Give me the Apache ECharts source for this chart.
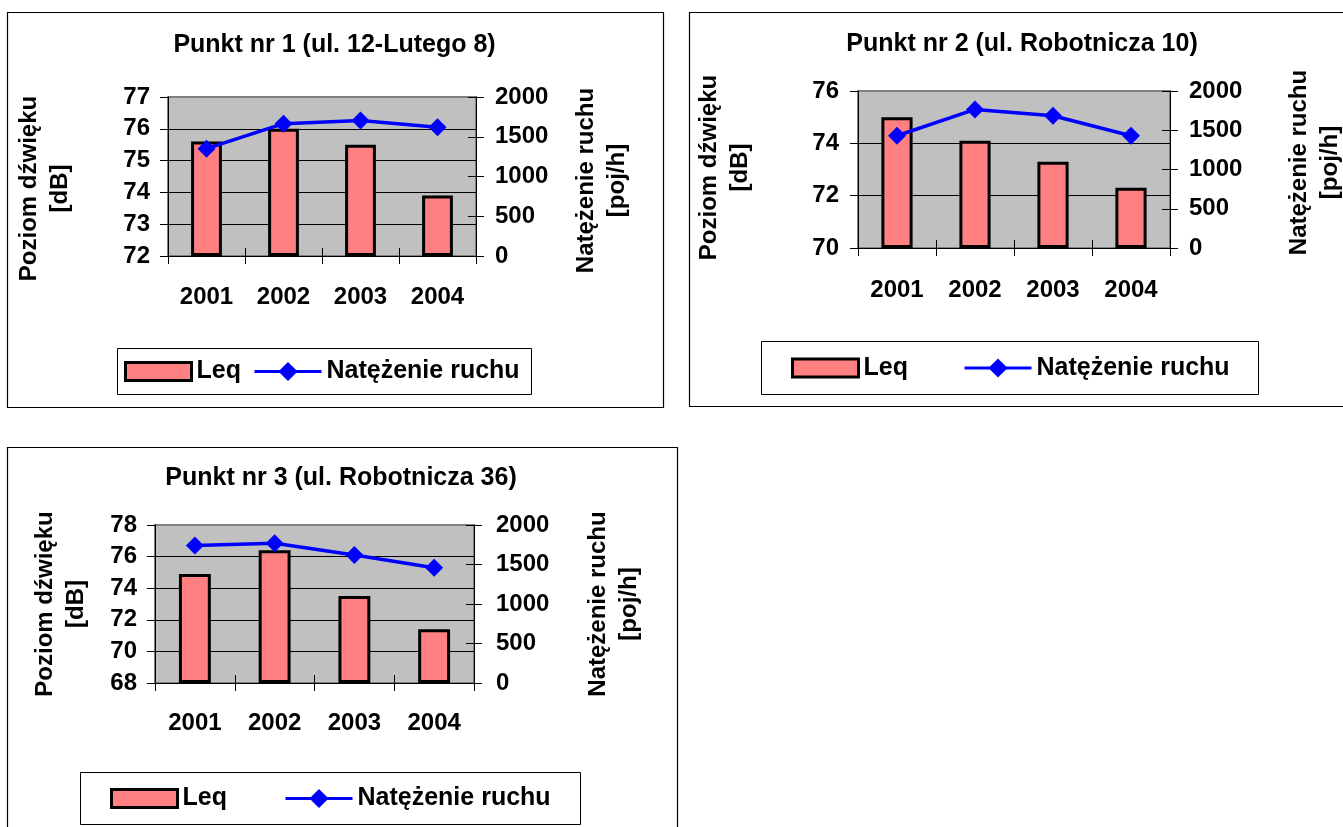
<!DOCTYPE html>
<html>
<head>
<meta charset="utf-8">
<script src="https://cdn.jsdelivr.net/npm/echarts@6/dist/echarts.min.js"></script>
<style>
  html, body { margin: 0; padding: 0; background: #fff; }
  #chart { width: 1343px; height: 827px; }
</style>
</head>
<body>
<div id="chart"></div>
<script>
// Measurement points: yearly noise level (Leq, dB) and traffic volume (vehicles/h)
const years = ['2001', '2002', '2003', '2004'];

const titles = [
  'Punkt nr 1 (ul. 12-Lutego 8)',
  'Punkt nr 2 (ul. Robotnicza 10)',
  'Punkt nr 3 (ul. Robotnicza 36)'
];

const leq1 = [75.6, 76.0, 75.5, 73.9];
const traffic1 = [1350, 1665, 1705, 1620];

const leq2 = [75.0, 74.1, 73.3, 72.3];
const traffic2 = [1430, 1765, 1685, 1430];

const leq3 = [74.9, 76.4, 73.5, 71.4];
const traffic3 = [1740, 1770, 1620, 1460];

// Left (dB) axis ranges per point: [min, max, step]
const dbAxis1 = [72, 77, 1];
const dbAxis2 = [70, 76, 2];
const dbAxis3 = [68, 78, 2];
// Right (traffic) axis range shared by all points
const trafficAxis = [0, 2000, 500];

const seriesNames = ['Leq', 'Natężenie ruchu'];
const leftAxisName = 'Poziom dźwięku\n[dB]';
const rightAxisName = 'Natężenie ruchu\n[poj/h]';

const FONT = '"Liberation Sans", Arial, Helvetica, sans-serif';
const BAR_FILL = '#FF8080';
const LINE_BLUE = '#0000FF';

// Layout of each panel on the page
const panels = [
  {
    title: titles[0], leq: leq1, traffic: traffic1, db: dbAxis1,
    frame: [7, 12, 656, 395],
    grid: { left: 168, top: 97, width: 308, height: 159 },
    titleAt: [334.5, 45],
    leftGap: 92, leftPad: [0, 24, 0, 0],
    rightGap: 95, rightPad: [0, 8, 0, 0],
    xMargin: 29, leftMargin: 18, rightMargin: 19,
    legendBox: [117, 348, 414, 46], legendLeq: 124, legendLine: 253, legendY: 371
  },
  {
    title: titles[1], leq: leq2, traffic: traffic2, db: dbAxis2,
    frame: [689, 12, 670, 394],
    grid: { left: 858, top: 91, width: 312, height: 157 },
    titleAt: [1022, 44],
    leftGap: 102, leftPad: [0, 0, 0, 4],
    rightGap: 114, rightPad: [0, 0, 0, 14],
    xMargin: 30, leftMargin: 19, rightMargin: 19,
    legendBox: [761, 341, 497, 53], legendLeq: 791, legendLine: 963, legendY: 367.5
  },
  {
    title: titles[2], leq: leq3, traffic: traffic3, db: dbAxis3,
    frame: [7, 447, 670, 400],
    grid: { left: 155, top: 525, width: 319, height: 158 },
    titleAt: [341, 478.5],
    leftGap: 63, leftPad: [0, 0, 0, 0],
    rightGap: 109, rightPad: [0, 0, 0, 0],
    xMargin: 28, leftMargin: 18, rightMargin: 22,
    legendBox: [80, 772, 500, 52], legendLeq: 110, legendLine: 284, legendY: 798
  }
];

const textBase = { fontFamily: FONT, fontWeight: 'bold', color: '#000' };
const plainNumber = (v) => String(v);

const option = {
  animation: false,
  backgroundColor: '#fff',
  title: [], grid: [], xAxis: [], yAxis: [], series: [], legend: [], graphic: []
};

panels.forEach((p, i) => {
  // outer frame of the panel and the legend box
  option.graphic.push({
    type: 'rect', silent: true, z: -10,
    shape: { x: p.frame[0] + 0.5, y: p.frame[1] + 0.5, width: p.frame[2], height: p.frame[3] },
    style: { fill: '#fff', stroke: '#000', lineWidth: 1.2 }
  });
  option.graphic.push({
    type: 'rect', silent: true, z: -5,
    shape: { x: p.legendBox[0] + 0.5, y: p.legendBox[1] + 0.5, width: p.legendBox[2], height: p.legendBox[3] },
    style: { fill: '#fff', stroke: '#000', lineWidth: 1 }
  });

  option.title.push({
    text: p.title,
    left: p.titleAt[0], top: p.titleAt[1] - 15,
    textAlign: 'center', padding: 0,
    textStyle: Object.assign({ fontSize: 25, lineHeight: 30 }, textBase)
  });

  option.grid.push(Object.assign({
    show: true, backgroundColor: '#C0C0C0', borderColor: '#808080', borderWidth: 2,
    containLabel: false, outerBoundsMode: 'none'
  }, p.grid));

  // category axis with ticks on the category boundaries
  option.xAxis.push({
    type: 'category', gridIndex: i, data: years, position: 'bottom', boundaryGap: true,
    axisLine: { show: true, lineStyle: { color: '#000', width: 1 } },
    axisTick: { show: true, inside: false, length: 8, alignWithLabel: false, lineStyle: { color: '#000', width: 1 } },
    axisLabel: Object.assign({ fontSize: 24, lineHeight: 24, margin: p.xMargin }, textBase),
    splitLine: { show: false }
  });
  // inner half of the crossing category ticks
  option.xAxis.push({
    type: 'category', gridIndex: i, data: years, position: 'bottom', boundaryGap: true,
    axisLine: { show: false },
    axisTick: { show: true, inside: true, length: 8, lineStyle: { color: '#000', width: 1 } },
    axisLabel: { show: false }, splitLine: { show: false }
  });

  option.yAxis.push({
    type: 'value', gridIndex: i, position: 'left',
    min: p.db[0], max: p.db[1], interval: p.db[2], startValue: p.db[0],
    axisLine: { show: true, lineStyle: { color: '#000', width: 1 } },
    axisTick: { show: true, inside: false, length: 8, lineStyle: { color: '#000', width: 1 } },
    axisLabel: Object.assign({ fontSize: 24, lineHeight: 24, margin: p.leftMargin, formatter: plainNumber }, textBase),
    splitLine: { show: true, showMinLine: false, showMaxLine: false, lineStyle: { color: '#000', width: 1 } },
    name: leftAxisName, nameLocation: 'middle', nameGap: p.leftGap, nameMoveOverlap: false,
    nameTextStyle: Object.assign({ fontSize: 24, lineHeight: 31, padding: p.leftPad }, textBase)
  });
  option.yAxis.push({
    type: 'value', gridIndex: i, position: 'right',
    min: trafficAxis[0], max: trafficAxis[1], interval: trafficAxis[2],
    axisLine: { show: true, lineStyle: { color: '#000', width: 1 } },
    axisTick: { show: true, inside: false, length: 8, lineStyle: { color: '#000', width: 1 } },
    axisLabel: Object.assign({ fontSize: 24, lineHeight: 24, margin: p.rightMargin, formatter: plainNumber }, textBase),
    splitLine: { show: false },
    name: rightAxisName, nameLocation: 'middle', nameGap: p.rightGap, nameMoveOverlap: false,
    nameTextStyle: Object.assign({ fontSize: 24, lineHeight: 31, padding: p.rightPad }, textBase)
  });
  // inner half of the crossing ticks on the traffic axis
  option.yAxis.push({
    type: 'value', gridIndex: i, position: 'right', offset: 0,
    min: trafficAxis[0], max: trafficAxis[1], interval: trafficAxis[2],
    axisLine: { show: false },
    axisTick: { show: true, inside: true, length: 8, lineStyle: { color: '#000', width: 1 } },
    axisLabel: { show: false }, splitLine: { show: false }
  });

  option.series.push({
    type: 'bar', name: seriesNames[0], xAxisIndex: 2 * i, yAxisIndex: 3 * i,
    data: p.leq, barWidth: '40%', z: 2,
    itemStyle: { color: BAR_FILL, borderColor: '#000', borderWidth: 3 }
  });
  option.series.push({
    type: 'line', name: seriesNames[1], xAxisIndex: 2 * i, yAxisIndex: 3 * i + 1,
    data: p.traffic, symbol: 'diamond', symbolSize: 18, z: 3,
    lineStyle: { color: LINE_BLUE, width: 3.5 },
    itemStyle: { color: LINE_BLUE }
  });

  const legendText = Object.assign({ fontSize: 25, lineHeight: 24 }, textBase);
  option.legend.push({
    data: [seriesNames[0]], left: p.legendLeq, top: p.legendY - 12, padding: 0,
    icon: 'rect', itemWidth: 66, itemHeight: 18, selectedMode: false,
    itemStyle: { borderColor: '#000', borderWidth: 3 },
    textStyle: legendText
  });
  option.legend.push({
    data: [seriesNames[1]], left: p.legendLine, top: p.legendY - 12, padding: 0,
    itemWidth: 67, itemHeight: 24, selectedMode: false,
    lineStyle: { width: 3 },
    textStyle: legendText
  });
});

const chart = echarts.init(document.getElementById('chart'), null, { renderer: 'canvas' });
chart.setOption(option);
</script>
</body>
</html>
